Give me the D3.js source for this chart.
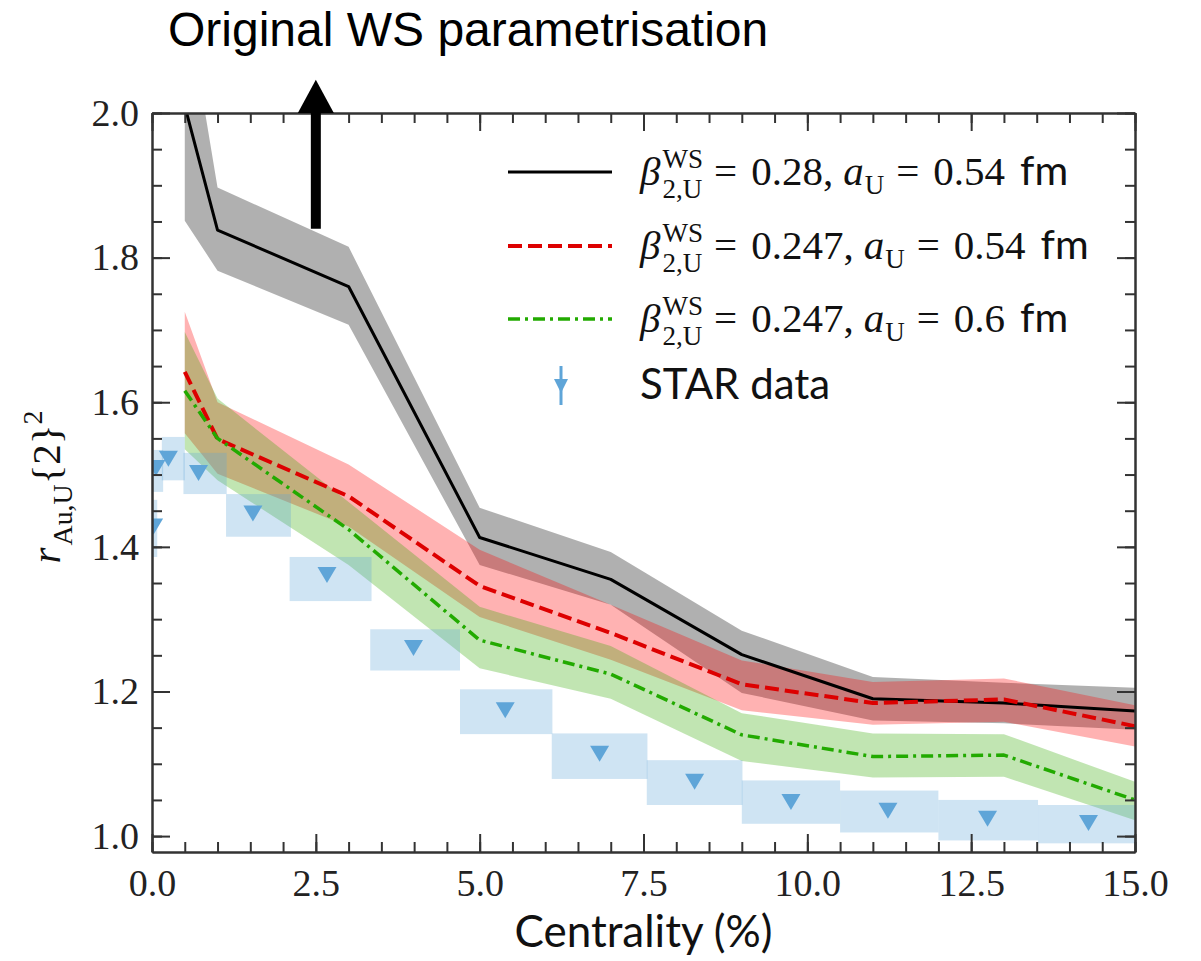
<!DOCTYPE html>
<html>
<head>
<meta charset="utf-8">
<script src="https://cdn.jsdelivr.net/npm/d3@7"></script>
<style>
  body { margin: 0; background: #fff; }
  svg { display: block; }
</style>
</head>
<body>
<div id="chart"></div>
<script>
// centrality points of the model curves (%)
const centrality = [0.5, 1, 3, 5, 7, 9, 11, 13, 15];

// beta2 = 0.28, a = 0.54 fm
const blackMid = [2.01, 1.838, 1.760, 1.413, 1.355, 1.251, 1.190, 1.184, 1.173];
const blackHigh = [2.17, 1.897, 1.815, 1.454, 1.393, 1.284, 1.220, 1.212, 1.205];
const blackLow = [1.851, 1.782, 1.707, 1.375, 1.320, 1.198, 1.160, 1.156, 1.147];

// beta2 = 0.247, a = 0.54 fm
const redMid = [1.642, 1.549, 1.470, 1.346, 1.281, 1.210, 1.184, 1.189, 1.152];
const redHigh = [1.725, 1.600, 1.514, 1.396, 1.320, 1.243, 1.213, 1.218, 1.181];
const redLow = [1.557, 1.501, 1.428, 1.303, 1.244, 1.174, 1.154, 1.158, 1.124];

// beta2 = 0.247, a = 0.6 fm
const greenMid = [1.616, 1.550, 1.424, 1.271, 1.224, 1.140, 1.110, 1.112, 1.050];
const greenHigh = [1.697, 1.605, 1.462, 1.317, 1.263, 1.170, 1.142, 1.141, 1.075];
const greenLow = [1.535, 1.492, 1.375, 1.232, 1.190, 1.104, 1.081, 1.082, 1.022];

// STAR data (value, box extent in x and y)
const starX = [0.025, 0.06, 0.25, 0.71, 1.54, 2.67, 3.99, 5.39, 6.83, 8.28, 9.75, 11.23, 12.75, 14.29];
const starY = [1.428, 1.509, 1.522, 1.502, 1.446, 1.361, 1.260, 1.174, 1.114, 1.075, 1.047, 1.035, 1.024, 1.018];
const starXLow = [-0.03, -0.04, 0.15, 0.48, 1.13, 2.10, 3.33, 4.70, 6.10, 7.55, 9.00, 10.50, 12.00, 13.52];
const starXHigh = [0.08, 0.17, 0.50, 1.14, 2.12, 3.35, 4.70, 6.11, 7.56, 9.01, 10.50, 12.00, 13.52, 15.00];
const starYLow = [1.386, 1.476, 1.492, 1.473, 1.414, 1.325, 1.229, 1.141, 1.079, 1.043, 1.017, 1.005, 0.994, 0.990];
const starYHigh = [1.465, 1.534, 1.552, 1.530, 1.473, 1.386, 1.286, 1.203, 1.142, 1.105, 1.077, 1.063, 1.050, 1.043];

const xTicks = [0, 2.5, 5, 7.5, 10, 12.5, 15];
const yTicks = [1.0, 1.2, 1.4, 1.6, 1.8, 2.0];
const legendValues = [['0.28', '0.54'], ['0.247', '0.54'], ['0.247', '0.6']];

const W = 1201;
const H = 961;
const margin = { top: 113, right: 66, bottom: 109, left: 152 };
const serif = '"Liberation Serif", "DejaVu Serif", serif';
const sans = 'Lato, "Noto Sans", sans-serif';

const svg = d3.select('#chart').append('svg')
  .attr('width', W)
  .attr('height', H);
svg.append('rect').attr('width', W).attr('height', H).attr('fill', '#fff');

const x = d3.scaleLinear().domain([0, 15]).range([margin.left, W - margin.right]);
const y = d3.scaleLinear().domain([0.978, 2.0]).range([H - margin.bottom, margin.top]);

svg.append('clipPath').attr('id', 'plot-clip')
  .append('rect')
  .attr('x', x(0)).attr('y', y(2.0))
  .attr('width', x(15) - x(0)).attr('height', y(0.978) - y(2.0));

const plot = svg.append('g').attr('clip-path', 'url(#plot-clip)');

const idx = d3.range(centrality.length);

function band(low, high, fill, opacity) {
  const area = d3.area()
    .x((i) => x(centrality[i]))
    .y0((i) => y(low[i]))
    .y1((i) => y(high[i]));
  plot.append('path').attr('d', area(idx))
    .attr('fill', fill).attr('fill-opacity', opacity);
}

band(blackLow, blackHigh, '#000', 0.31);
band(redLow, redHigh, '#ff0000', 0.3);
band(greenLow, greenHigh, '#33aa00', 0.3);

// STAR boxes
const starIdx = d3.range(starX.length);
plot.selectAll('.star-box')
  .data(starIdx).enter()
  .append('rect')
  .attr('class', 'star-box')
  .attr('x', (i) => x(starXLow[i]))
  .attr('y', (i) => y(starYHigh[i]))
  .attr('width', (i) => x(starXHigh[i]) - x(starXLow[i]))
  .attr('height', (i) => y(starYLow[i]) - y(starYHigh[i]))
  .attr('fill', '#5fa5d8')
  .attr('fill-opacity', 0.3);

function curve(vals, color, width, dash) {
  const line = d3.line()
    .x((i) => x(centrality[i]))
    .y((i) => y(vals[i]));
  plot.append('path').attr('d', line(idx))
    .attr('fill', 'none')
    .attr('stroke', color)
    .attr('stroke-width', width)
    .attr('stroke-linejoin', 'round')
    .attr('stroke-dasharray', dash);
}

curve(blackMid, '#000', 3, null);
curve(redMid, '#dd0000', 4, '14,6');
curve(greenMid, '#22aa00', 3.5, '12,5,3,5');

// STAR markers (down triangles)
const tri = (cx, cy, w, h) => `M${cx - w / 2},${cy - h / 2}L${cx + w / 2},${cy - h / 2}L${cx},${cy + h / 2}Z`;
plot.selectAll('.star-pt')
  .data(starIdx).enter()
  .append('path')
  .attr('class', 'star-pt')
  .attr('d', (i) => tri(x(starX[i]), y(starY[i]), 19, 16))
  .attr('fill', '#5fa5d8');

// axes, ticks pointing inward on all sides
const majorLen = 18;
const minorLen = 10;
const xMinor = d3.range(0, 15.01, 0.5);
const yMinor = d3.range(1.0, 2.001, 0.05);

function styleAxis(g) {
  g.selectAll('.domain').attr('stroke', '#333').attr('stroke-width', 2);
  g.selectAll('.tick line').attr('stroke', '#333').attr('stroke-width', 2);
  g.selectAll('.tick text').attr('font-family', serif).attr('font-size', 38).attr('fill', '#222');
}

svg.append('g').attr('transform', `translate(0,${y(0.978)})`)
  .call(d3.axisBottom(x).tickValues(xMinor).tickSize(-minorLen).tickSizeOuter(0).tickFormat(''))
  .call(styleAxis);
svg.append('g').attr('transform', `translate(0,${y(0.978)})`)
  .call(d3.axisBottom(x).tickValues(xTicks).tickSize(-majorLen).tickSizeOuter(0)
    .tickPadding(17).tickFormat(d3.format('.1f')))
  .call(styleAxis);
svg.append('g').attr('transform', `translate(0,${y(2.0)})`)
  .call(d3.axisTop(x).tickValues(xMinor).tickSize(-minorLen).tickSizeOuter(0).tickFormat(''))
  .call(styleAxis);
svg.append('g').attr('transform', `translate(0,${y(2.0)})`)
  .call(d3.axisTop(x).tickValues(xTicks).tickSize(-majorLen).tickSizeOuter(0).tickFormat(''))
  .call(styleAxis);

svg.append('g').attr('transform', `translate(${x(0)},0)`)
  .call(d3.axisLeft(y).tickValues(yMinor).tickSize(-minorLen).tickSizeOuter(0).tickFormat(''))
  .call(styleAxis);
svg.append('g').attr('transform', `translate(${x(0)},0)`)
  .call(d3.axisLeft(y).tickValues(yTicks).tickSize(-majorLen).tickSizeOuter(0)
    .tickPadding(13).tickFormat(d3.format('.1f')))
  .call(styleAxis);
svg.append('g').attr('transform', `translate(${x(15)},0)`)
  .call(d3.axisRight(y).tickValues(yMinor).tickSize(-minorLen).tickSizeOuter(0).tickFormat(''))
  .call(styleAxis);
svg.append('g').attr('transform', `translate(${x(15)},0)`)
  .call(d3.axisRight(y).tickValues(yTicks).tickSize(-majorLen).tickSizeOuter(0).tickFormat(''))
  .call(styleAxis);

// x label
svg.append('text')
  .attr('x', (x(0) + x(15)) / 2)
  .attr('y', 947)
  .attr('text-anchor', 'middle')
  .attr('font-family', sans)
  .attr('font-size', 44)
  .attr('fill', '#111')
  .text('Centrality (%)');

// small helper for math-like text built from pieces
// piece: {t, family, italic, scale, shift, stack, padL, pad}
function mathText(parent, x0, y0, size, pieces) {
  const g = parent.append('g');
  let cx = x0;
  let stackStart = null;
  let stackWidth = 0;
  pieces.forEach((p) => {
    const fs = size * (p.scale || 1);
    let px = cx + (p.padL || 0);
    if (p.stack) {
      px = stackStart;
    }
    const t = g.append('text')
      .attr('x', px)
      .attr('y', y0 + (p.shift || 0) * size)
      .attr('font-family', p.family || serif)
      .attr('font-style', p.italic ? 'italic' : 'normal')
      .attr('font-size', fs)
      .attr('fill', '#111')
      .style('white-space', 'pre')
      .text(p.t);
    const w = t.node().getComputedTextLength() + (p.pad || 0);
    if (p.stack) {
      stackWidth = Math.max(stackWidth, w);
      cx = stackStart + stackWidth;
    } else {
      stackStart = px;
      stackWidth = w;
      cx = px + w;
    }
  });
  return { g, width: cx - x0 };
}

// legend
const legendRows = [
  { color: '#000', width: 3, dash: null },
  { color: '#dd0000', width: 4, dash: '14,6' },
  { color: '#22aa00', width: 3.5, dash: '12,5,3,5' },
];
const legendY = [172, 246, 319];
legendRows.forEach((r, i) => {
  svg.append('line')
    .attr('x1', 508).attr('x2', 612)
    .attr('y1', legendY[i]).attr('y2', legendY[i])
    .attr('stroke', r.color)
    .attr('stroke-width', r.width)
    .attr('stroke-dasharray', r.dash);
  mathText(svg, 640, legendY[i] + 13, 41, [
    { t: 'β', italic: true, pad: 2 },
    { t: 'WS', scale: 0.66, shift: -0.42 },
    { t: '2,U', scale: 0.66, shift: 0.32, stack: true },
    { t: '=', padL: 11, pad: 14 },
    { t: `${legendValues[i][0]},` },
    { t: 'a', italic: true, padL: 10, pad: 1 },
    { t: 'U', scale: 0.66, shift: 0.22 },
    { t: '=', padL: 12, pad: 14 },
    { t: legendValues[i][1] },
    { t: 'fm', family: sans, padL: 15 },
  ]);
});
svg.append('line')
  .attr('x1', 561).attr('x2', 561)
  .attr('y1', 366).attr('y2', 405)
  .attr('stroke', '#5fa5d8').attr('stroke-width', 3);
svg.append('path')
  .attr('d', tri(561, 386, 14, 14))
  .attr('fill', '#5fa5d8');
svg.append('text')
  .attr('x', 640).attr('y', 399)
  .attr('font-family', sans)
  .attr('font-size', 42)
  .attr('fill', '#111')
  .text('STAR data');

// y label, rotated
const yl = svg.append('g');
const ylab = mathText(yl, 0, 0, 41, [
  { t: 'r', italic: true, pad: 2 },
  { t: 'Au,U', scale: 0.68, shift: 0.3 },
  { t: '{2}' },
  { t: '2', scale: 0.68, shift: -0.45 },
]);
yl.attr('transform', `translate(60,${487 + ylab.width / 2}) rotate(-90)`);

// title and arrow
svg.append('text')
  .attr('x', 168).attr('y', 46)
  .attr('font-family', '"Liberation Sans", Arial, sans-serif')
  .attr('font-size', 48)
  .attr('fill', '#000')
  .text('Original WS parametrisation');

const arrowX = x(2.5);
svg.append('line')
  .attr('x1', arrowX).attr('x2', arrowX)
  .attr('y1', y(1.84)).attr('y2', y(2.0) - 2)
  .attr('stroke', '#000').attr('stroke-width', 10);
svg.append('path')
  .attr('d', `M${arrowX - 18},${y(2.0)}L${arrowX + 18},${y(2.0)}L${arrowX},${y(2.046)}Z`)
  .attr('fill', '#000');
</script>
</body>
</html>
